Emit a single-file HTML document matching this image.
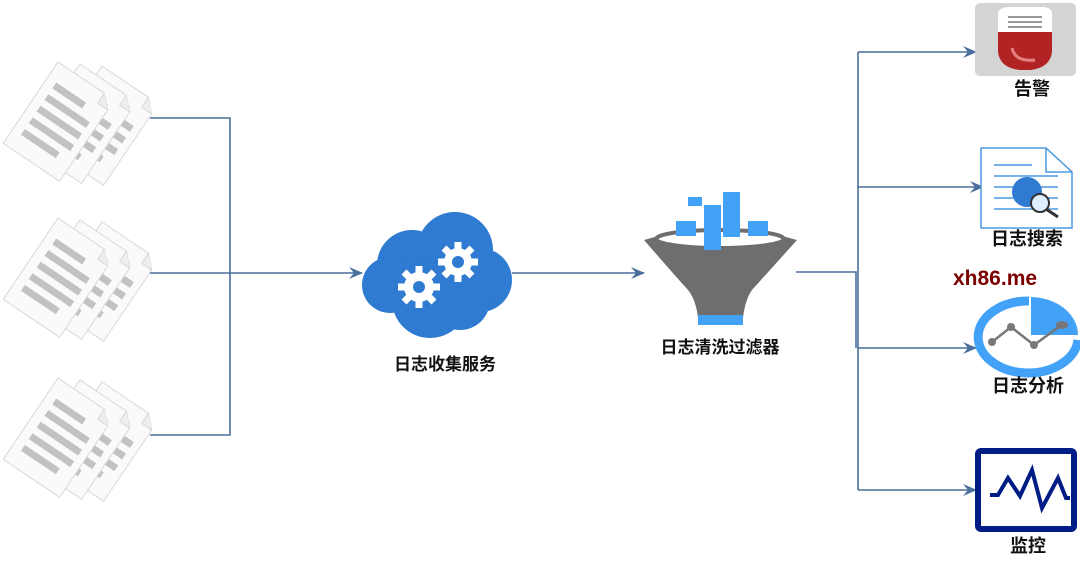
<!DOCTYPE html>
<html><head><meta charset="utf-8"><style>
body{margin:0;background:#fff;}
svg{display:block}
text{font-family:"Liberation Sans","Noto Sans CJK SC",sans-serif;}
</style></head><body>
<svg width="1080" height="570" viewBox="0 0 1080 570" xmlns="http://www.w3.org/2000/svg">
<defs>
<marker id="ar" markerWidth="14" markerHeight="12" refX="13" refY="6" orient="auto" markerUnits="userSpaceOnUse">
<path d="M0,0 L14,6 L0,12 L5,6 Z" fill="#4a6f9c"/></marker>
<g id="page">
<path d="M0,0 L56,0 L68,12 L68,98 L0,98 Z" fill="#fafafa" stroke="#d8d8d8" stroke-width="1"/>
<path d="M56,0 L56,12 L68,12" fill="#eee" stroke="#d8d8d8"/>
<rect x="10" y="18" width="36" height="7" fill="#c2c2c2"/>
<rect x="10" y="32" width="50" height="7" fill="#c2c2c2"/>
<rect x="10" y="46" width="50" height="7" fill="#c2c2c2"/>
<rect x="10" y="60" width="50" height="7" fill="#c2c2c2"/>
<rect x="10" y="74" width="42" height="7" fill="#c2c2c2"/>
</g>
<g id="docs">
<use href="#page" transform="translate(102,4) rotate(34)"/>
<use href="#page" transform="translate(80,2) rotate(34)"/>
<use href="#page" transform="translate(58,0) rotate(34)"/>
</g>
</defs>

<use href="#docs" transform="translate(0,62)"/>
<use href="#docs" transform="translate(0,218)"/>
<use href="#docs" transform="translate(0,378)"/>

<g stroke="#4a6f9c" stroke-width="1.6" fill="none">
<polyline points="150,118 230,118 230,435 150,435"/>
<line x1="150" y1="273" x2="362" y2="273" marker-end="url(#ar)"/>
<line x1="512" y1="273" x2="644" y2="273" marker-end="url(#ar)"/>
<polyline points="796,272 856,272 856,348"/>
<line x1="858" y1="52" x2="858" y2="490"/>
<line x1="858" y1="52" x2="976" y2="52" marker-end="url(#ar)"/>
<line x1="858" y1="187" x2="983" y2="187" marker-end="url(#ar)"/>
<line x1="858" y1="348" x2="976" y2="348" marker-end="url(#ar)"/>
<line x1="858" y1="490" x2="976" y2="490" marker-end="url(#ar)"/>
</g>

<!-- cloud -->
<g fill="#2f7bd1">
<circle cx="412" cy="265" r="35"/>
<circle cx="455" cy="250" r="38"/>
<circle cx="480" cy="280" r="32"/>
<circle cx="390" cy="285" r="28"/>
<circle cx="430" cy="300" r="38"/>
<circle cx="460" cy="300" r="30"/>
</g>
<g fill="#fff">
<circle cx="419" cy="287" r="15"/>
<g stroke="#fff" stroke-width="7">
<line x1="419" y1="266" x2="419" y2="308"/><line x1="398" y1="287" x2="440" y2="287"/>
<line x1="404" y1="272" x2="434" y2="302"/><line x1="434" y1="272" x2="404" y2="302"/>
</g>
<circle cx="458" cy="262" r="14"/>
<g stroke="#fff" stroke-width="7">
<line x1="458" y1="242" x2="458" y2="282"/><line x1="438" y1="262" x2="478" y2="262"/>
<line x1="444" y1="248" x2="472" y2="276"/><line x1="472" y1="248" x2="444" y2="276"/>
</g>
</g>
<circle cx="419" cy="287" r="6" fill="#2f7bd1"/>
<circle cx="458" cy="262" r="6" fill="#2f7bd1"/>
<text x="445" y="370" font-size="17" font-weight="bold" text-anchor="middle" fill="#111">日志收集服务</text>

<!-- funnel -->
<path d="M644,240 Q720,218 797,240 Q770,270 752,290 Q745,300 743,318 L698,318 Q696,300 688,290 Q670,270 644,240 Z" fill="#6e6e6e"/>
<ellipse cx="720" cy="239" rx="64" ry="9" fill="#fff" stroke="#6e6e6e" stroke-width="4"/>
<g fill="#42a2f7">
<rect x="688" y="197" width="14" height="9"/>
<rect x="676" y="221" width="20" height="15"/>
<rect x="704" y="205" width="17" height="45"/>
<rect x="723" y="192" width="17" height="45"/>
<rect x="748" y="221" width="20" height="15"/>
<rect x="698" y="315" width="45" height="10"/>
</g>
<text x="720" y="353" font-size="17" font-weight="bold" text-anchor="middle" fill="#111">日志清洗过滤器</text>

<!-- alert -->
<rect x="975" y="3" width="101" height="73" rx="5" fill="#d4d4d4"/>
<path d="M998,14 Q998,8 1008,7 L1044,7 Q1052,8 1052,14 L1052,32 L998,32 Z" fill="#fff"/>
<path d="M998,32 L1052,32 L1052,52 Q1050,68 1030,70 L1020,70 Q1000,68 998,52 Z" fill="#b22424"/>
<g fill="#999"><rect x="1008" y="16" width="34" height="2"/><rect x="1008" y="21" width="34" height="2"/><rect x="1008" y="26" width="34" height="2"/></g>
<path d="M1012,48 Q1015,62 1035,60" stroke="#e58080" stroke-width="3" fill="none"/>
<text x="1032" y="95" font-size="18" font-weight="bold" text-anchor="middle" fill="#111">告警</text>

<!-- search -->
<path d="M981,148 L1046,148 L1072,172 L1072,228 L981,228 Z" fill="#fff" stroke="#4a9ae0" stroke-width="1.5"/>
<path d="M1046,148 L1046,172 L1072,172" fill="none" stroke="#4a9ae0" stroke-width="1.5"/>
<g stroke="#4a9ae0" stroke-width="1.5">
<line x1="994" y1="165" x2="1032" y2="165"/><line x1="994" y1="176" x2="1058" y2="176"/>
<line x1="994" y1="187" x2="1058" y2="187"/><line x1="994" y1="198" x2="1058" y2="198"/>
<line x1="994" y1="209" x2="1058" y2="209"/>
</g>
<circle cx="1027" cy="192" r="15" fill="#2f7bd1"/>
<circle cx="1040" cy="203" r="9" fill="#dfefff" stroke="#333" stroke-width="2"/>
<line x1="1046" y1="209" x2="1058" y2="217" stroke="#333" stroke-width="3"/>
<text x="1027" y="245" font-size="18" font-weight="bold" text-anchor="middle" fill="#111">日志搜索</text>

<text x="953" y="285" font-size="21" font-weight="bold" fill="#7a0000" font-family="Liberation Mono,monospace">xh86.me</text>

<!-- analysis -->
<path d="M1029,301 A50,36 0 1,0 1078,340" fill="none" stroke="#42a2f7" stroke-width="9"/>
<path d="M1031,297 L1031,335 L1078,335 A48,38 0 0,0 1031,297 Z" fill="#42a2f7"/>
<polyline points="992,342 1011,327 1034,345 1060,326" fill="none" stroke="#777" stroke-width="2.5"/>
<g fill="#777"><circle cx="992" cy="342" r="4"/><circle cx="1011" cy="327" r="4"/><circle cx="1034" cy="345" r="4"/><ellipse cx="1062" cy="325" rx="6" ry="4"/></g>
<text x="1028" y="392" font-size="18" font-weight="bold" text-anchor="middle" fill="#111">日志分析</text>

<!-- monitor -->
<rect x="978" y="451" width="96" height="78" rx="3" fill="#fff" stroke="#001c85" stroke-width="6"/>
<polyline points="990,495 998,495 1008,478 1020,496 1032,470 1042,508 1058,478 1066,498 1070,498" fill="none" stroke="#001c85" stroke-width="4"/>
<text x="1028" y="552" font-size="18" font-weight="bold" text-anchor="middle" fill="#111">监控</text>
</svg>
</body></html>
